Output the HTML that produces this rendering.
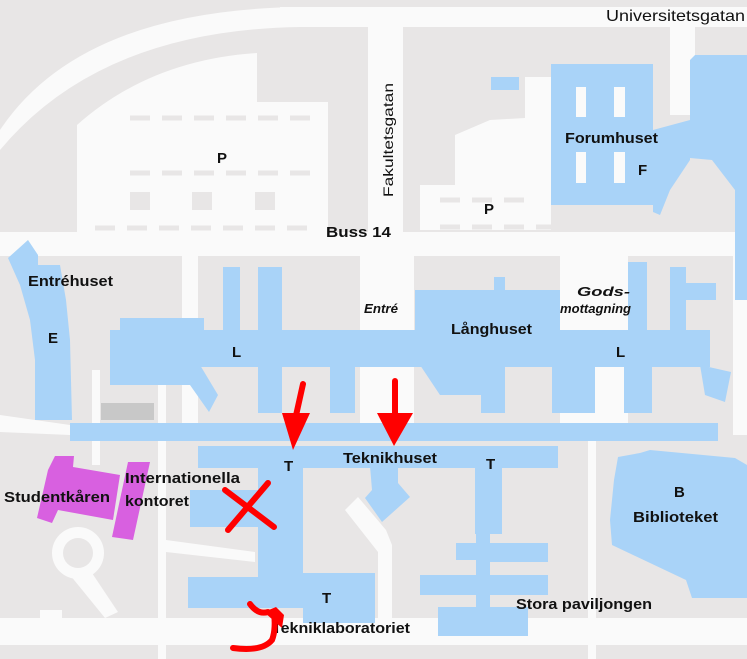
<!DOCTYPE html>
<html><head><meta charset="utf-8"><style>
html,body{margin:0;padding:0;background:#e8e6e6;}
svg{display:block}
text{font-family:"Liberation Sans",sans-serif;fill:#111;}
.b{font-weight:bold;font-size:15px}
</style></head><body>
<svg width="747" height="659" viewBox="0 0 747 659" xmlns="http://www.w3.org/2000/svg">
<rect width="747" height="659" fill="#e8e6e6"/>
<g fill="#fafafa">
<rect x="280" y="7" width="467" height="20"/>
<path d="M0,130 Q80,10 300,7 L300,27 Q100,30 0,150 Z"/>
<rect x="368" y="20" width="35" height="230"/>
<rect x="670" y="20" width="25" height="95"/>
<path d="M77,125 Q150,60 257,53 L257,102 L328,102 L328,240 L77,240 Z"/>
<path d="M455,135 L490,120 L525,118 L525,77 L551,77 L551,230 L420,230 L420,185 L455,185 Z"/>
<rect x="0" y="232" width="747" height="24"/>
<rect x="182" y="255" width="16" height="180"/>
<rect x="360" y="255" width="54" height="180"/>
<rect x="560" y="255" width="68" height="180"/>
<rect x="733" y="255" width="14" height="180"/>
<path d="M0,415 L70,425 L70,435 L0,432 Z"/>
<rect x="92" y="370" width="8" height="95"/>
<rect x="158" y="380" width="8" height="279"/>
<rect x="588" y="440" width="8" height="219"/>
<path d="M166,540 L255,552 L255,562 L166,552 Z"/>
<circle cx="78" cy="553" r="26"/>
<path d="M90,570 L118,612 L105,618 L70,575 Z"/>
<rect x="0" y="618" width="747" height="27"/>
<rect x="40" y="610" width="22" height="10"/>
<path d="M345,510 L358,497 L386,530 L392,545 L392,625 L378,625 L378,552 Z"/>
</g>
<circle cx="78" cy="553" r="15" fill="#e8e6e6"/>
<g fill="#e8e6e6">
<rect x="130" y="192" width="20" height="18"/><rect x="192" y="192" width="20" height="18"/><rect x="255" y="192" width="20" height="18"/>
</g>
<g stroke="#e8e6e6" stroke-width="5" stroke-dasharray="20,12">
<line x1="130" y1="118" x2="310" y2="118"/>
<line x1="130" y1="173" x2="310" y2="173"/>
<line x1="95" y1="228" x2="310" y2="228"/>
<line x1="440" y1="227" x2="625" y2="227"/>
<line x1="440" y1="200" x2="530" y2="200"/>
<line x1="0" y1="652" x2="160" y2="652"/>
</g>
<rect x="101" y="403" width="53" height="17" fill="#c8c8c8"/>
<g fill="#a9d3f8">
<rect x="491" y="77" width="28" height="13"/>
<rect x="551" y="64" width="102" height="141"/>
<path d="M695,55 L747,55 L747,300 L735,300 L735,190 L712,160 L690,158 L690,60 Z"/>
<path d="M653,130 L690,120 L690,160 L670,190 L660,215 L653,212 Z"/>
<path d="M8,258 L28,240 L38,255 L38,265 L60,265 L66,300 L70,340 L72,420 L35,420 L35,360 L30,320 L20,285 Z"/>
<rect x="223" y="267" width="17" height="63"/>
<rect x="258" y="267" width="24" height="63"/>
<rect x="415" y="290" width="145" height="40"/>
<rect x="494" y="277" width="11" height="14"/>
<rect x="628" y="262" width="19" height="68"/>
<rect x="670" y="267" width="16" height="63"/>
<rect x="686" y="283" width="30" height="17"/>
<rect x="120" y="318" width="84" height="15"/>
<rect x="110" y="330" width="600" height="37"/>
<path d="M110,365 L200,365 L218,395 L209,412 L190,385 L110,385 Z"/>
<rect x="258" y="365" width="24" height="48"/>
<rect x="330" y="365" width="25" height="48"/>
<path d="M420,365 L505,365 L505,413 L481,413 L481,395 L440,395 Z"/>
<rect x="552" y="365" width="43" height="48"/>
<rect x="624" y="365" width="28" height="48"/>
<path d="M700,365 L731,372 L725,402 L705,395 Z"/>
<rect x="70" y="423" width="648" height="18"/>
<rect x="198" y="446" width="360" height="22"/>
<rect x="258" y="466" width="45" height="115"/>
<rect x="190" y="490" width="70" height="37"/>
<rect x="188" y="577" width="120" height="31"/>
<rect x="303" y="573" width="72" height="50"/>
<path d="M370,466 L398,466 L398,483 L410,497 L382,522 L365,498 L372,490 Z"/>
<rect x="475" y="466" width="27" height="68"/>
<rect x="476" y="532" width="14" height="75"/>
<rect x="456" y="543" width="20" height="17"/>
<rect x="490" y="543" width="58" height="19"/>
<rect x="420" y="575" width="56" height="20"/>
<rect x="490" y="575" width="58" height="20"/>
<rect x="438" y="607" width="90" height="29"/>
<path d="M618,457 L640,453 L650,450 L735,458 L747,465 L747,598 L692,598 L686,580 L612,545 L610,520 L614,480 Z"/>
</g>
<g fill="#fafafa">
<rect x="576" y="87" width="10" height="30"/><rect x="614" y="87" width="11" height="30"/>
<rect x="576" y="152" width="10" height="31"/><rect x="614" y="152" width="11" height="31"/>
</g>
<g fill="#d860e0">
<path d="M55,456 L74,456 L73,467 L120,475 L113,520 L58,510 L52,523 L37,518 L48,470 Z"/>
<path d="M128,462 L150,462 L133,540 L112,537 Z"/>
</g>
<text x="606" y="21" font-size="16" textLength="139" lengthAdjust="spacingAndGlyphs">Universitetsgatan</text>
<text transform="translate(393,197) rotate(-90)" font-size="14" textLength="114" lengthAdjust="spacingAndGlyphs">Fakultetsgatan</text>
<text class="b" x="217" y="163">P</text>
<text class="b" x="484" y="214">P</text>
<text class="b" x="565" y="143" textLength="93" lengthAdjust="spacingAndGlyphs">Forumhuset</text>
<text class="b" x="638" y="175">F</text>
<text class="b" x="326" y="237" textLength="65" lengthAdjust="spacingAndGlyphs">Buss 14</text>
<text class="b" x="28" y="286" textLength="85" lengthAdjust="spacingAndGlyphs">Entréhuset</text>
<text x="364" y="313" font-size="13" font-style="italic" font-weight="bold" textLength="34" lengthAdjust="spacingAndGlyphs">Entré</text>
<text x="577" y="296" font-size="13" font-style="italic" font-weight="bold" textLength="53" lengthAdjust="spacingAndGlyphs">Gods-</text>
<text x="560" y="313" font-size="13" font-style="italic" font-weight="bold" textLength="71" lengthAdjust="spacingAndGlyphs">mottagning</text>
<text class="b" x="451" y="334" textLength="81" lengthAdjust="spacingAndGlyphs">Långhuset</text>
<text class="b" x="232" y="357">L</text>
<text class="b" x="616" y="357">L</text>
<text class="b" x="48" y="343">E</text>
<text class="b" x="284" y="471">T</text>
<text class="b" x="343" y="463" textLength="94" lengthAdjust="spacingAndGlyphs">Teknikhuset</text>
<text class="b" x="486" y="469">T</text>
<text class="b" x="125" y="483" textLength="115" lengthAdjust="spacingAndGlyphs">Internationella</text>
<text class="b" x="125" y="506" textLength="64" lengthAdjust="spacingAndGlyphs">kontoret</text>
<text class="b" x="4" y="502" textLength="106" lengthAdjust="spacingAndGlyphs">Studentkåren</text>
<text class="b" x="674" y="497">B</text>
<text class="b" x="633" y="522" textLength="85" lengthAdjust="spacingAndGlyphs">Biblioteket</text>
<text class="b" x="322" y="603">T</text>
<text class="b" x="272" y="633" textLength="138" lengthAdjust="spacingAndGlyphs">Tekniklaboratoriet</text>
<text class="b" x="516" y="609" textLength="136" lengthAdjust="spacingAndGlyphs">Stora paviljongen</text>
<g stroke="#f00" stroke-width="6" stroke-linecap="round" fill="none">
<line x1="303" y1="384" x2="295" y2="420"/>
<line x1="395" y1="381" x2="395" y2="420"/>
<line x1="225" y1="490" x2="274" y2="527"/>
<line x1="268" y1="483" x2="228" y2="530"/>
<path d="M233,648 Q262,652 272,640 Q276,630 274,612"/>
<path d="M250,604 Q258,615 268,612"/>
</g>
<g fill="#f00">
<path d="M282,413 L310,413 L293,450 Z"/>
<path d="M377,413 L413,413 L394,446 Z"/>
<path d="M264,612 L276,607 L284,615 L282,628 Z"/>
</g>
</svg>
</body></html>
